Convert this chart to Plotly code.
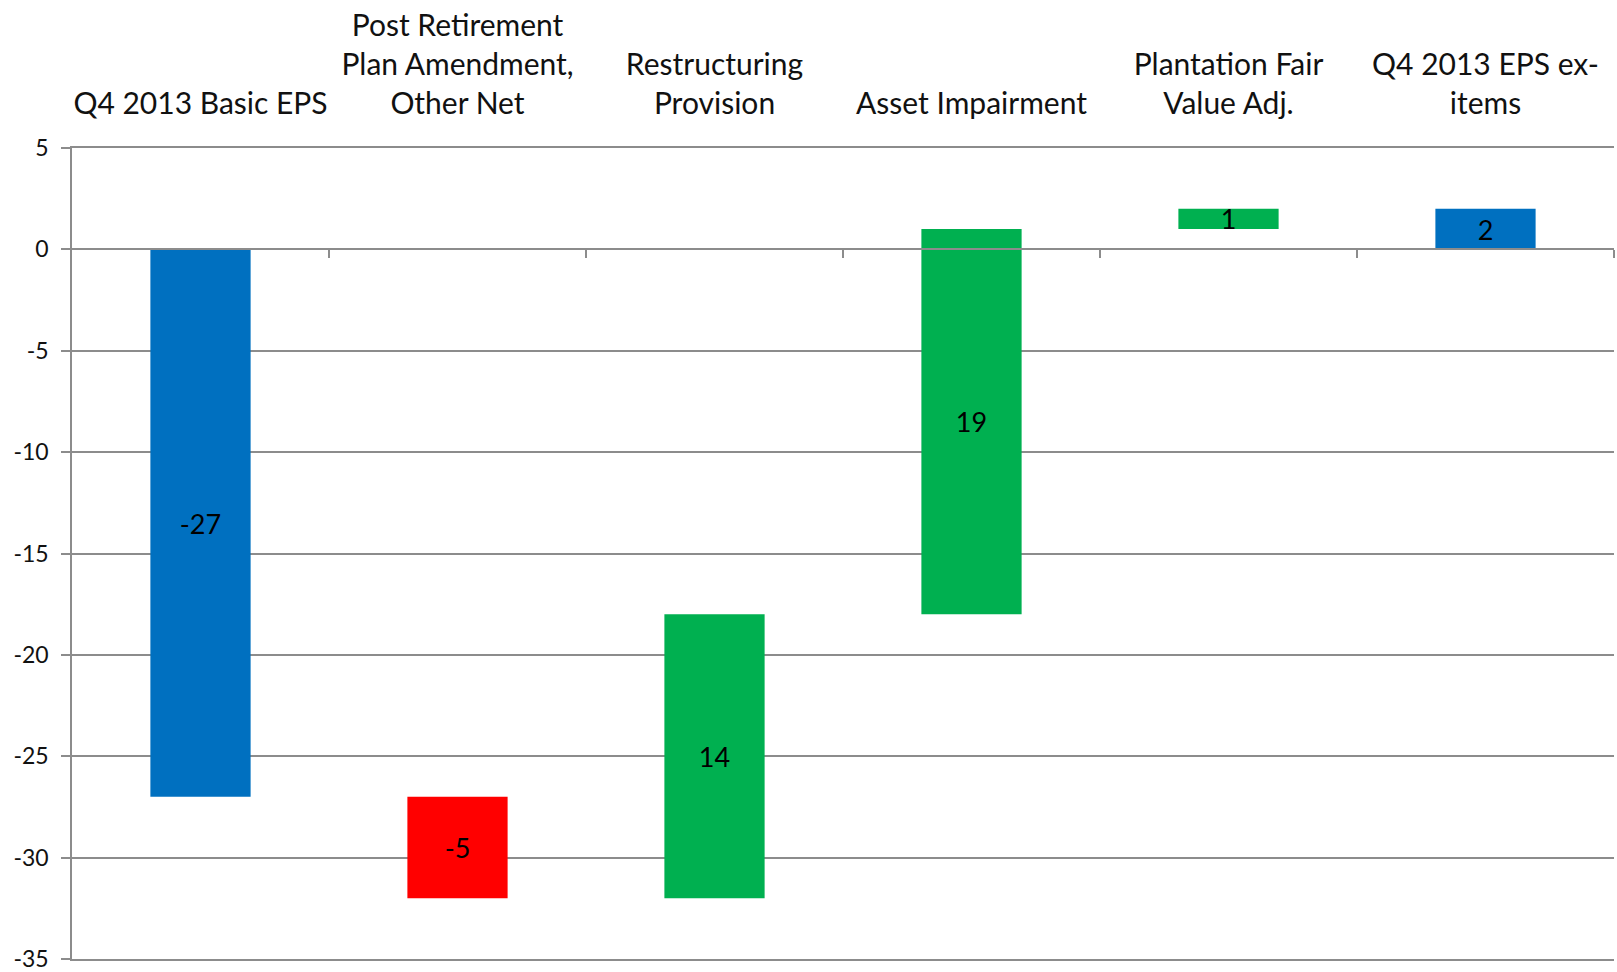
import plotly.graph_objects as go

categories = [
    "Q4 2013 Basic EPS",
    "Post Retirement<br>Plan Amendment,<br>Other Net",
    "Restructuring<br>Provision",
    "Asset Impairment",
    "Plantation Fair<br>Value Adj.",
    "Q4 2013 EPS ex-<br>items",
]
values = [-27, -5, 14, 19, 1, 2]
measures = ["absolute", "relative", "relative", "relative", "relative", "total"]
labels = ["-27", "-5", "14", "19", "1", "2"]

y_ticks = [5, 0, -5, -10, -15, -20, -25, -30, -35]

FONT = "Lato, 'Noto Sans', sans-serif"
GRID = "#8c8c8c"

fig = go.Figure()
fig.add_trace(go.Waterfall(
    x=list(range(len(categories))),
    y=values,
    measure=measures,
    text=labels,
    textposition="inside",
    insidetextanchor="middle",
    textangle=0,
    constraintext="none",
    textfont=dict(family=FONT, size=27, color="#000000"),
    increasing=dict(marker=dict(color="#00B050")),
    decreasing=dict(marker=dict(color="#FF0000")),
    totals=dict(marker=dict(color="#0070C0")),
    connector=dict(visible=False),
    width=0.39,
    showlegend=False,
    hoverinfo="skip",
))

# dummy trace on xaxis2 to show the category-boundary ticks at y=0
fig.add_trace(go.Scatter(x=[None], y=[None], xaxis="x2", showlegend=False, hoverinfo="skip"))

fig.update_layout(
    width=1617, height=972,
    margin=dict(l=72, r=3, t=148, b=13, autoexpand=False),
    paper_bgcolor="white", plot_bgcolor="white",
    font=dict(family=FONT, color="#000000"),
    xaxis=dict(
        side="top",
        automargin=False,
        range=[-0.5, 5.5],
        tickmode="array",
        tickvals=list(range(len(categories))),
        ticktext=categories,
        tickfont=dict(family=FONT, size=30, color="#111111"),
        showgrid=False, zeroline=False,
        showline=True, mirror=True, linecolor=GRID, linewidth=1.5,
        ticks="", ticklabelstandoff=20,
    ),
    xaxis2=dict(
        overlaying="x",
        anchor="free",
        automargin=False,
        position=0.875,
        side="bottom",
        range=[-0.5, 5.5],
        tickmode="array",
        tickvals=[0.5, 1.5, 2.5, 3.5, 4.5, 5.5],
        ticks="outside", ticklen=8, tickwidth=1.5, tickcolor=GRID,
        showticklabels=False,
        showgrid=False, zeroline=False,
        showline=True, linecolor=GRID, linewidth=1.5,
    ),
    yaxis=dict(
        automargin=False,
        range=[-35, 5],
        tickmode="array",
        tickvals=y_ticks,
        ticktext=[str(v) for v in y_ticks],
        tickfont=dict(family=FONT, size=23, color="#111111"),
        ticklabeloverflow="allow",
        showgrid=True, gridcolor=GRID, gridwidth=1.5,
        zeroline=False,
        showline=True, linecolor=GRID, linewidth=1.5,
        ticks="outside", ticklen=9, tickwidth=1.5, tickcolor=GRID,
        ticklabelstandoff=8,
    ),
)

fig.write_html("out.html")
